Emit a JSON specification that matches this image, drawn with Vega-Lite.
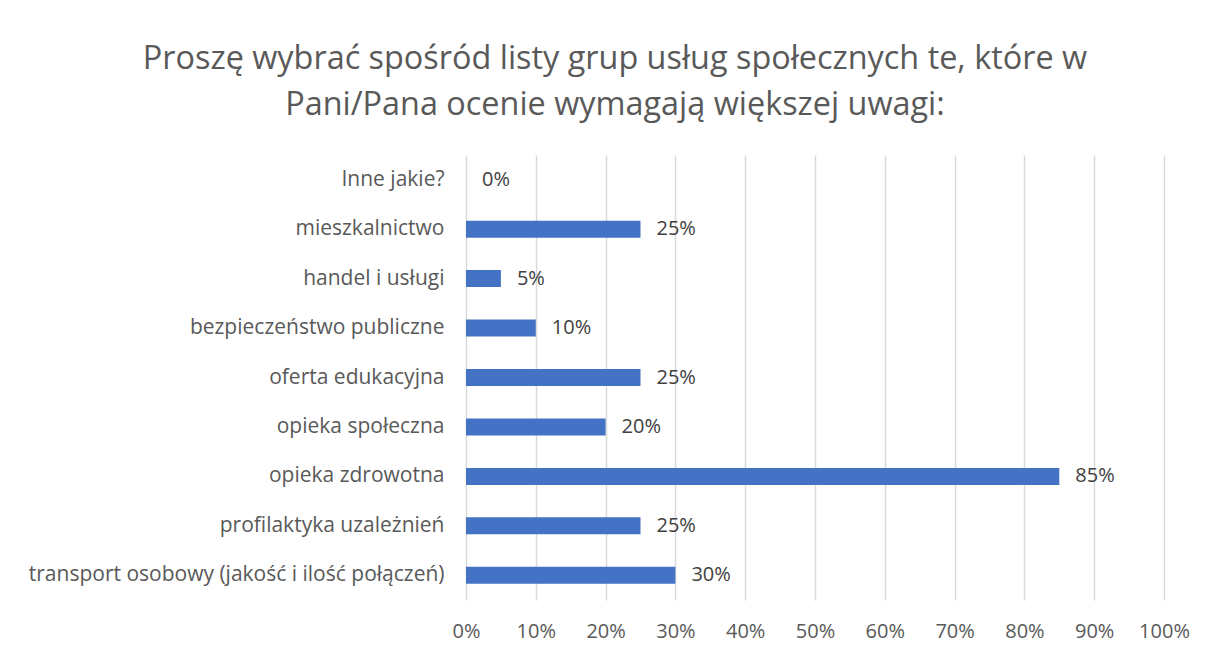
{
  "$schema": "https://vega.github.io/schema/vega-lite/v6.json",
  "width": 698,
  "height": 445,
  "autosize": {"type": "none"},
  "padding": {"left": 466, "top": 155, "right": 43, "bottom": 53},
  "background": "white",
  "title": {
    "text": ["Proszę wybrać spośród listy grup usług społecznych te, które w", "Pani/Pana ocenie wymagają większej uwagi:"],
    "font": "Open Sans",
    "fontSize": 32.4,
    "fontWeight": "normal",
    "color": "#595959",
    "anchor": "middle",
    "frame": "group",
    "dx": -200,
    "offset": 34,
    "lineHeight": 46
  },
  "data": {
    "values": [
      {"kategoria": "Inne jakie?", "wartosc": 0},
      {"kategoria": "mieszkalnictwo", "wartosc": 0.25},
      {"kategoria": "handel i usługi", "wartosc": 0.05},
      {"kategoria": "bezpieczeństwo publiczne", "wartosc": 0.10},
      {"kategoria": "oferta edukacyjna", "wartosc": 0.25},
      {"kategoria": "opieka społeczna", "wartosc": 0.20},
      {"kategoria": "opieka zdrowotna", "wartosc": 0.85},
      {"kategoria": "profilaktyka uzależnień", "wartosc": 0.25},
      {"kategoria": "transport osobowy (jakość i ilość połączeń)", "wartosc": 0.30}
    ]
  },
  "encoding": {
    "y": {
      "field": "kategoria",
      "type": "nominal",
      "sort": null,
      "axis": {
        "title": null,
        "ticks": false,
        "domain": false,
        "labelFont": "Open Sans",
        "labelFontSize": 21,
        "labelColor": "#595959",
        "labelPadding": 22,
        "labelLimit": 600
      }
    },
    "x": {
      "field": "wartosc",
      "type": "quantitative",
      "scale": {"domain": [0, 1], "nice": false},
      "axis": {
        "title": null,
        "format": ".0%",
        "values": [0, 0.1, 0.2, 0.3, 0.4, 0.5, 0.6, 0.7, 0.8, 0.9, 1],
        "labelOverlap": false,
        "labelFlush": false,
        "ticks": false,
        "domain": false,
        "grid": true,
        "gridColor": "#d9d9d9",
        "gridWidth": 1.5,
        "labelFont": "Open Sans",
        "labelFontSize": 20,
        "labelColor": "#595959",
        "labelPadding": 21,
        "labelBaseline": "top"
      }
    }
  },
  "layer": [
    {
      "mark": {"type": "bar", "color": "#4472c4", "size": 17}
    },
    {
      "mark": {"type": "text", "align": "left", "baseline": "middle", "dx": 16, "font": "Open Sans", "fontSize": 20, "color": "#404040"},
      "encoding": {
        "text": {"field": "wartosc", "type": "quantitative", "format": ".0%"}
      }
    }
  ],
  "config": {
    "view": {"stroke": null}
  }
}
